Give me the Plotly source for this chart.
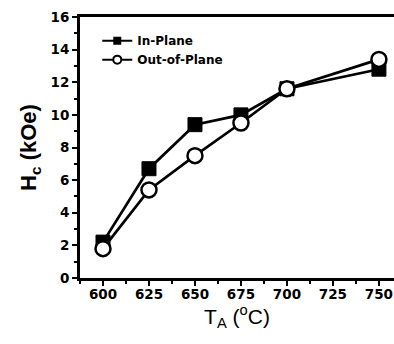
import plotly.graph_objects as go

temps = [600, 625, 650, 675, 700, 750]
in_plane = [2.2, 6.7, 9.4, 10.0, 11.6, 12.8]
out_plane = [1.8, 5.4, 7.5, 9.5, 11.6, 13.4]
x_ticks = [600, 625, 650, 675, 700, 725, 750]
y_ticks = [0, 2, 4, 6, 8, 10, 12, 14, 16]
series_names = ["In-Plane", "Out-of-Plane"]

FONT = "Liberation Sans"
TICKFONT = "DejaVu Sans"

fig = go.Figure()
# data traces
fig.add_trace(go.Scatter(
    x=temps, y=in_plane, name=series_names[0], mode="lines+markers", showlegend=False,
    line=dict(color="black", width=2.7),
    marker=dict(symbol="square", size=14, color="black", line=dict(color="black", width=1)),
))
fig.add_trace(go.Scatter(
    x=temps, y=out_plane, name=series_names[1], mode="lines+markers", showlegend=False,
    line=dict(color="black", width=2.7),
    marker=dict(symbol="circle", size=15, color="white", line=dict(color="black", width=2.5)),
))
# legend entries (smaller symbols like the reference key)
fig.add_trace(go.Scatter(
    x=[None], y=[None], name=series_names[0], mode="lines+markers",
    line=dict(color="black", width=2),
    marker=dict(symbol="square", size=8, color="black"),
))
fig.add_trace(go.Scatter(
    x=[None], y=[None], name=series_names[1], mode="lines+markers",
    line=dict(color="black", width=2),
    marker=dict(symbol="circle", size=8, color="white", line=dict(color="black", width=2)),
))

fig.update_layout(
    width=394, height=344,
    margin=dict(l=80, r=0, t=17, b=66),
    paper_bgcolor="white", plot_bgcolor="white",
    font=dict(family=FONT, color="black"),
    showlegend=True,
    legend=dict(
        x=0.055, y=0.965, xanchor="left", yanchor="top",
        font=dict(family=TICKFONT, size=12, color="black", weight="bold"),
        bgcolor="rgba(0,0,0,0)", itemwidth=30, tracegroupgap=0,
    ),
)

fig.update_xaxes(
    range=[587.5, 758.2], tickvals=x_ticks, ticktext=[str(v) for v in x_ticks],
    showgrid=False, zeroline=False,
    showline=True, linecolor="black", linewidth=3, mirror=True,
    ticks="outside", ticklen=5, tickwidth=2, tickcolor="black",
    minor=dict(dtick=12.5, tick0=587.5, ticks="outside", ticklen=3, tickwidth=2, tickcolor="black"),
    tickfont=dict(family=TICKFONT, size=13.5, weight="bold"),
    ticklabelstandoff=-3,
    title=dict(text="T<sub>A</sub> (<sup>o</sup>C)", font=dict(family=FONT, size=21), standoff=2),
)
fig.update_yaxes(
    range=[0, 16], tickvals=y_ticks, ticktext=[str(v) for v in y_ticks],
    showgrid=False, zeroline=False,
    showline=True, linecolor="black", linewidth=3, mirror=False,
    ticks="outside", ticklen=5, tickwidth=2, tickcolor="black",
    minor=dict(dtick=1, tick0=0, ticks="outside", ticklen=3, tickwidth=2, tickcolor="black"),
    tickfont=dict(family=TICKFONT, size=13.5, weight="bold"),
    title=dict(text="H<sub>c</sub> (kOe)", font=dict(family=FONT, size=22, weight="bold"), standoff=8),
)

fig.write_html("out.html")
